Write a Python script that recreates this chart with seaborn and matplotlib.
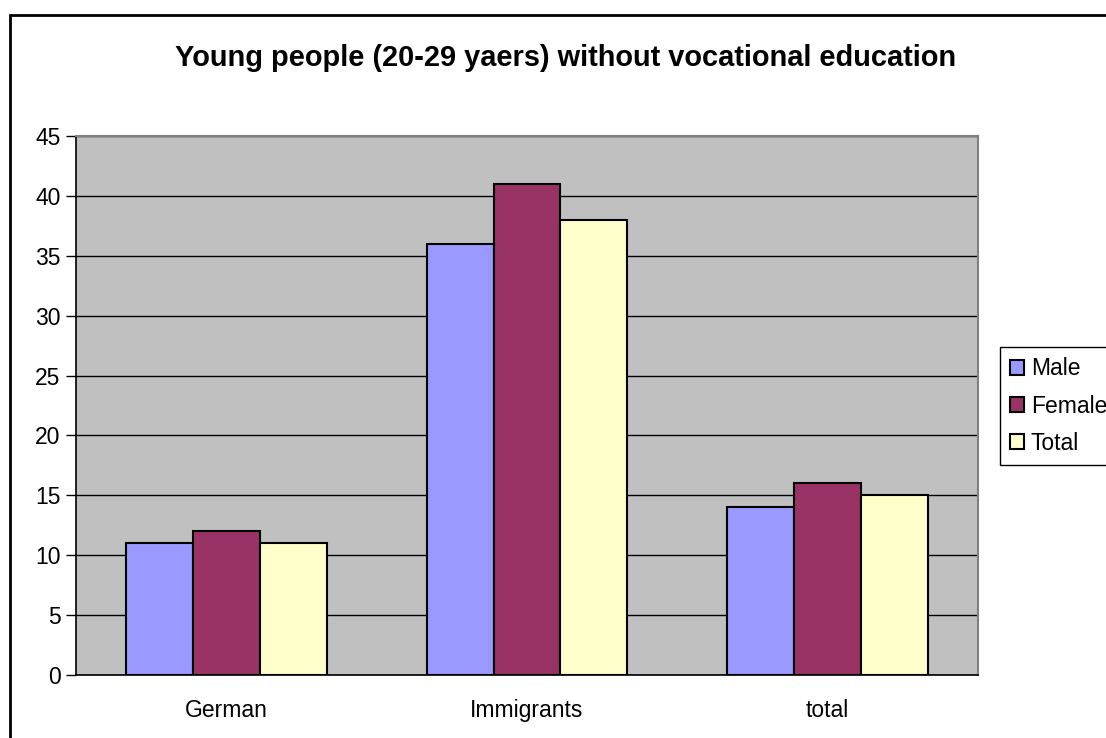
import matplotlib
matplotlib.use("Agg")
import matplotlib.pyplot as plt
from matplotlib.patches import Rectangle
import seaborn as sns
import pandas as pd

# Share of young people (20-29 years) without vocational education, in %
groups = ["German", "Immigrants", "total"]
series = ["Male", "Female", "Total"]
male = [11, 36, 14]
female = [12, 41, 16]
total = [11, 38, 15]
colors = ["#9999FF", "#993366", "#FFFFCC"]
y_ticks = [0, 5, 10, 15, 20, 25, 30, 35, 40, 45]

df = pd.DataFrame({
    "group": groups * 3,
    "series": [s for s in series for _ in groups],
    "value": male + female + total,
})

sns.set_theme(style="white")
plt.rcParams["font.family"] = ["Liberation Sans", "DejaVu Sans"]
plt.rcParams.update({"text.color": "black", "xtick.color": "black",
                     "ytick.color": "black", "axes.labelcolor": "black"})

W, H = 1106, 738
fig = plt.figure(figsize=(W / 100, H / 100), dpi=100)
ax = fig.add_axes([76 / W, 1 - 675 / H, (978 - 76) / W, (675 - 136) / H])

# Outer chart frame
fig.patches.append(Rectangle((10 / W, -0.1), 1.2, 1 - 15 / H + 0.1,
                             transform=fig.transFigure, fill=False,
                             edgecolor="black", linewidth=2, zorder=0))

ax.set_facecolor("#C0C0C0")
sns.barplot(data=df, x="group", y="value", hue="series", order=groups,
            hue_order=series, palette=colors, width=2 / 3, ax=ax,
            edgecolor="black", linewidth=1.5, saturation=1, zorder=3)

ax.set_ylim(0, 45)
ax.set_xlim(-0.5, 2.5)
ax.set_yticks(y_ticks)
ax.set_yticklabels([str(v) for v in y_ticks], fontsize=16.5)
ax.yaxis.grid(True, color="black", linewidth=1)
ax.set_axisbelow(True)

# Category ticks sit between groups; labels sit at the group centres
ax.set_xticks([-0.5, 0.5, 1.5, 2.5])
ax.set_xticklabels([])
ax.set_xticks([0, 1, 2], minor=True)
ax.set_xticklabels(groups, minor=True, fontsize=16.5)
ax.tick_params(axis="x", which="major", length=7, width=1, color="black", direction="out")
ax.tick_params(axis="x", which="minor", length=0, pad=17)
ax.tick_params(axis="y", length=7, width=1, color="black", direction="out", pad=4, left=True)
ax.set_xlabel("")
ax.set_ylabel("")

for side in ["top", "right"]:
    ax.spines[side].set_color("#808080")
    ax.spines[side].set_linewidth(1.5)
for side in ["left", "bottom"]:
    ax.spines[side].set_color("black")
    ax.spines[side].set_linewidth(1.2)

fig.text(566 / W, 1 - 58 / H, "Young people (20-29 yaers) without vocational education",
         ha="center", va="center", fontsize=20.9, fontweight="bold")

handles, labels = ax.get_legend_handles_labels()
if ax.legend_:
    ax.legend_.remove()
leg = fig.legend(handles, labels, loc="upper left",
                 bbox_to_anchor=(1000 / W, 1 - 347 / H), fontsize=16.5,
                 frameon=True, fancybox=False, edgecolor="black",
                 framealpha=1, handlelength=0.6, handleheight=0.6,
                 handletextpad=0.3, labelspacing=0.62, borderpad=0.45,
                 borderaxespad=0)
leg.get_frame().set_linewidth(1)

fig.savefig("out.png", dpi=100, facecolor="white")
